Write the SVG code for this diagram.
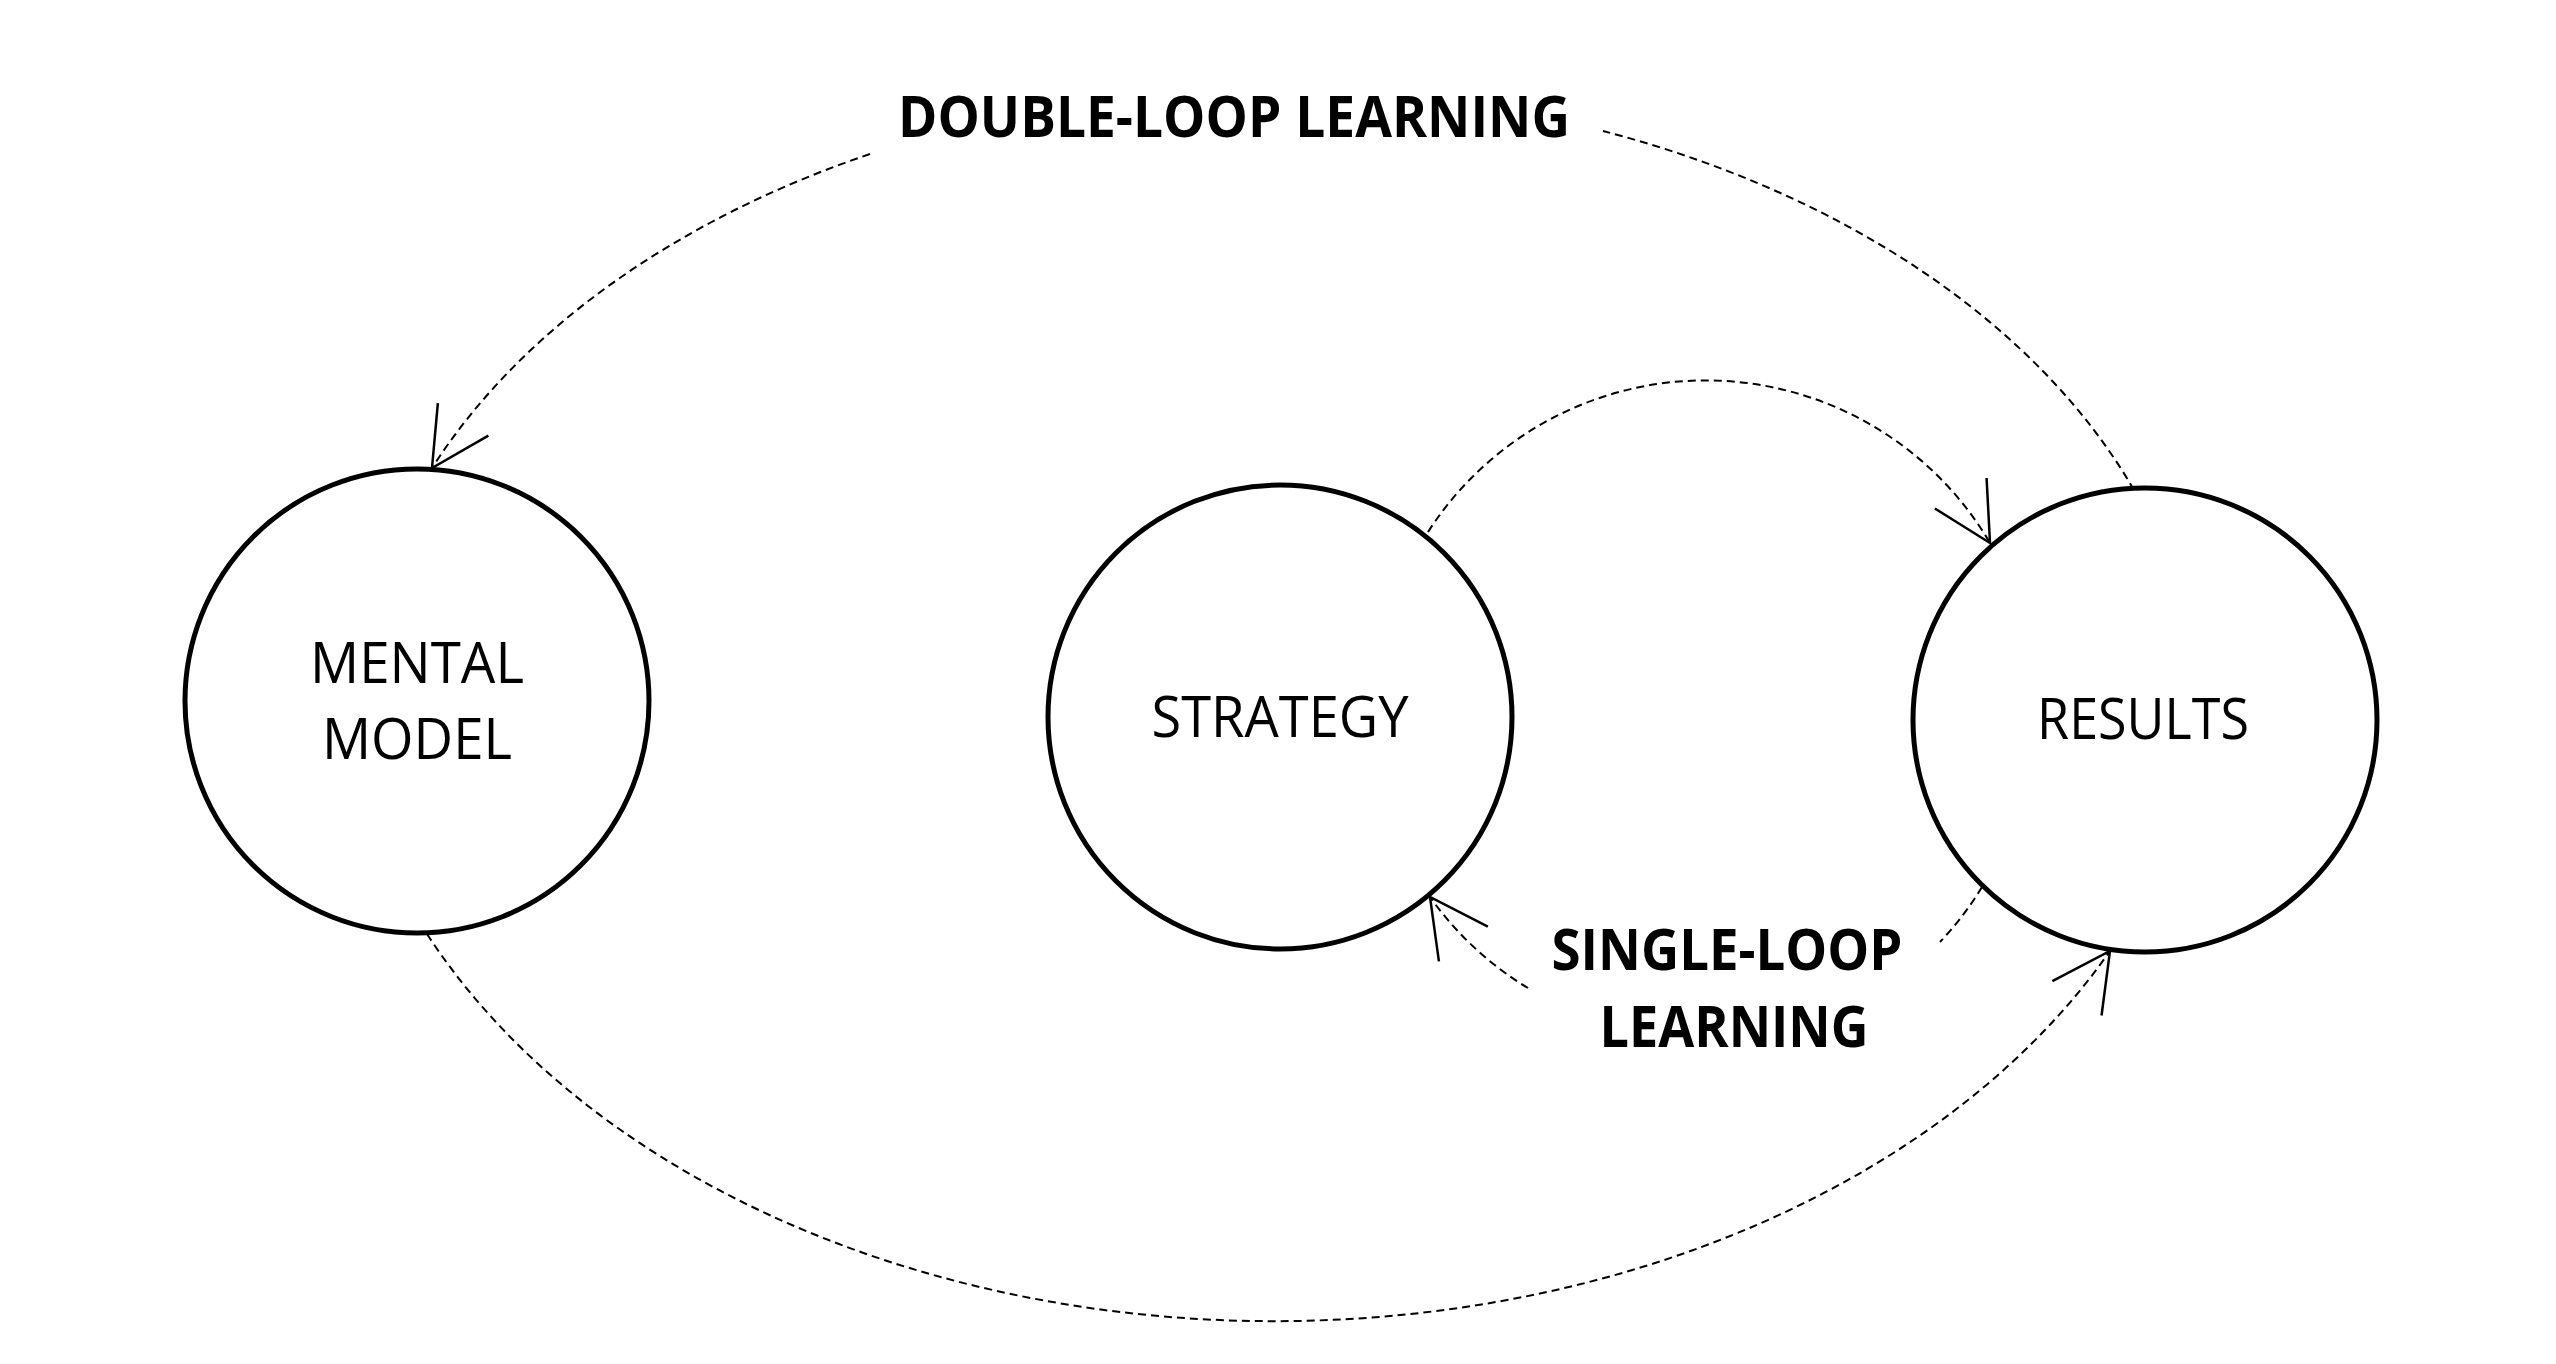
<svg xmlns="http://www.w3.org/2000/svg" width="2556" height="1364" viewBox="0 0 2556 1364">
  <style>
    .node { fill: #ffffff; stroke: #000000; stroke-width: 5; }
    .lbl { font-family: "Open Sans", "Noto Sans", "Liberation Sans", sans-serif; font-size: 57px; fill: #000000; text-anchor: middle; }
    .bold { font-weight: 700; }
    .conn { fill: none; stroke: #000000; stroke-width: 2; stroke-dasharray: 8 5; }
  </style>
  <defs>
    <marker id="openArrow" markerUnits="userSpaceOnUse" viewBox="-70 -40 80 80" markerWidth="80" markerHeight="80" refX="0" refY="0" orient="auto" overflow="visible">
      <path d="M-57.7,-30 L0,0 L-57.7,30" fill="none" stroke="#000000" stroke-width="2.5" stroke-dasharray="none"/>
    </marker>
  </defs>
  <rect x="0" y="0" width="2556" height="1364" fill="#ffffff"/>

  <g id="connectors">
    <!-- double-loop, top: results to mental model (broken for label) -->
    <path class="conn" d="M2134,490 A925,635 0 0 0 1603,131"/>
    <path class="conn" d="M870,154 A925,635 0 0 0 432,468" marker-end="url(#openArrow)"/>
    <!-- double-loop, bottom: mental model to results -->
    <path class="conn" d="M427,934 A935,671 0 0 0 2110,951" marker-end="url(#openArrow)"/>
    <!-- single-loop, top: strategy to results -->
    <path class="conn" d="M1428,532 A330,330 0 0 1 1990,543" marker-end="url(#openArrow)"/>
    <!-- single-loop, bottom: results to strategy (broken for label) -->
    <path class="conn" d="M1982,887 A328,328 0 0 1 1940,942"/>
    <path class="conn" d="M1528,988 A328,328 0 0 1 1430,897" marker-end="url(#openArrow)"/>
  </g>

  <g id="mental-model">
    <circle class="node" cx="417" cy="701" r="232"/>
    <text class="lbl" x="417" y="683" textLength="214" lengthAdjust="spacingAndGlyphs">MENTAL</text>
    <text class="lbl" x="417" y="759" textLength="190" lengthAdjust="spacingAndGlyphs">MODEL</text>
  </g>

  <g id="strategy">
    <circle class="node" cx="1280" cy="717" r="232"/>
    <text class="lbl" x="1280" y="737" textLength="257" lengthAdjust="spacingAndGlyphs">STRATEGY</text>
  </g>

  <g id="results">
    <circle class="node" cx="2145" cy="720" r="232"/>
    <text class="lbl" x="2143" y="739" textLength="212" lengthAdjust="spacingAndGlyphs">RESULTS</text>
  </g>

  <g id="double-loop-label">
    <text class="lbl bold" x="1234" y="137" textLength="672" lengthAdjust="spacingAndGlyphs">DOUBLE-LOOP LEARNING</text>
  </g>

  <g id="single-loop-label">
    <text class="lbl bold" x="1727" y="970" textLength="351" lengthAdjust="spacingAndGlyphs">SINGLE-LOOP</text>
    <text class="lbl bold" x="1734" y="1047" textLength="269" lengthAdjust="spacingAndGlyphs">LEARNING</text>
  </g>
</svg>
